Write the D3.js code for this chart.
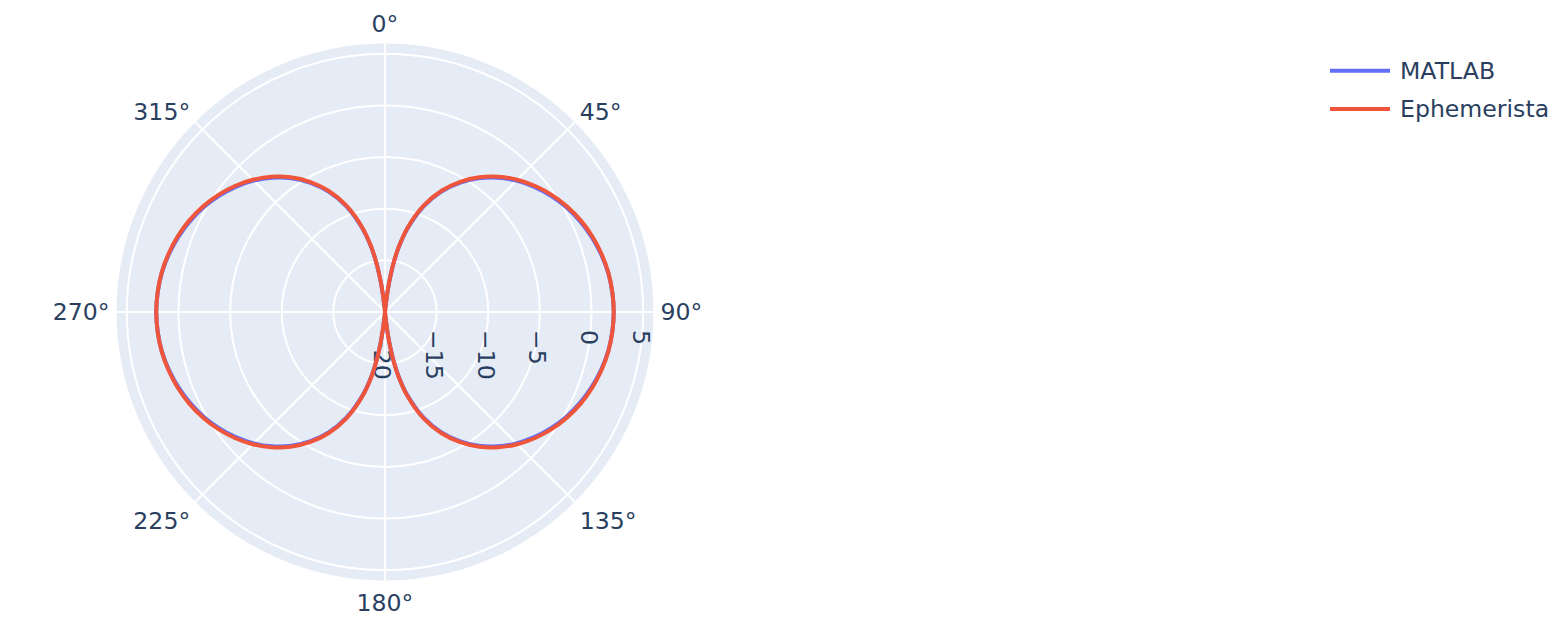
<!DOCTYPE html>
<html>
<head>
<meta charset="utf-8">
<script src="https://cdn.jsdelivr.net/npm/d3@7"></script>
<style>
  html, body { margin: 0; padding: 0; background: #fff; }
  svg { display: block; }
  text { font-family: "DejaVu Sans", Verdana, Arial, sans-serif; fill: #2a3f5f; }
</style>
</head>
<body>
<svg id="chart" width="1560" height="634"></svg>
<script>
// ---------------- data ----------------
const seriesNames = ["MATLAB", "Ephemerista"];
const seriesColors = ["#636efa", "#EF553B"];

const thetaDeg = [
  0, 6, 7, 8, 10, 12, 15, 20, 25, 30, 35, 40, 45, 50, 55, 60, 65, 70, 75, 80, 85, 90,
  95, 100, 105, 110, 115, 120, 125, 130, 135, 140, 145, 150, 155, 160, 165, 168, 170, 172, 173, 174, 180,
  186, 187, 188, 190, 192, 195, 200, 205, 210, 215, 220, 225, 230, 235, 240, 245, 250, 255, 260, 265, 270,
  275, 280, 285, 290, 295, 300, 305, 310, 315, 320, 325, 330, 335, 340, 345, 348, 350, 352, 353, 354, 360
];

const ephemeristaDb = [
  -20, -19.54, -18.19, -17.04, -15.09, -13.50, -11.55, -9.01, -7.04, -5.44, -4.07, -2.90, -1.89, -1.02, -0.26, 0.39, 0.93, 1.37, 1.71, 1.96, 2.10, 2.15,
  2.10, 1.96, 1.71, 1.37, 0.93, 0.39, -0.26, -1.02, -1.89, -2.90, -4.07, -5.44, -7.04, -9.01, -11.55, -13.50, -15.09, -17.04, -18.19, -19.54, -20,
  -19.54, -18.19, -17.04, -15.09, -13.50, -11.55, -9.01, -7.04, -5.44, -4.07, -2.90, -1.89, -1.02, -0.26, 0.39, 0.93, 1.37, 1.71, 1.96, 2.10, 2.15,
  2.10, 1.96, 1.71, 1.37, 0.93, 0.39, -0.26, -1.02, -1.89, -2.90, -4.07, -5.44, -7.04, -9.01, -11.55, -13.50, -15.09, -17.04, -18.19, -19.54, -20
];

const matlabDb = [
  -20, -19.60, -18.27, -17.12, -15.18, -13.60, -11.67, -9.13, -7.16, -5.56, -4.19, -3.02, -2.01, -1.14, -0.38, 0.28, 0.83, 1.29, 1.66, 1.94, 2.09, 2.15,
  2.09, 1.94, 1.66, 1.29, 0.83, 0.28, -0.38, -1.14, -2.01, -3.02, -4.19, -5.56, -7.16, -9.13, -11.67, -13.60, -15.18, -17.12, -18.27, -19.60, -20,
  -19.60, -18.27, -17.12, -15.18, -13.60, -11.67, -9.13, -7.16, -5.56, -4.19, -3.02, -2.01, -1.14, -0.38, 0.28, 0.83, 1.29, 1.66, 1.94, 2.09, 2.15,
  2.09, 1.94, 1.66, 1.29, 0.83, 0.28, -0.38, -1.14, -2.01, -3.02, -4.19, -5.56, -7.16, -9.13, -11.67, -13.60, -15.18, -17.12, -18.27, -19.60, -20
];

const radialTicks = [-20, -15, -10, -5, 0, 5];
const radialTickLabels = ["\u221220", "\u221215", "\u221210", "\u22125", "0", "5"];
const angularTicks = [0, 45, 90, 135, 180, 225, 270, 315];
const angularTickLabels = ["0°", "45°", "90°", "135°", "180°", "225°", "270°", "315°"];
const radialRange = [-20, 6];

// ---------------- layout ----------------
const cx = 385, cy = 312, R = 268.5;
const fontSize = 23.6;
const bg = "#E5ECF6";

const svg = d3.select("#chart");
const rScale = d3.scaleLinear().domain(radialRange).range([0, R]).clamp(true);

const g = svg.append("g").attr("transform", `translate(${cx},${cy})`);

// background
g.append("circle").attr("r", R).attr("fill", bg);

// radial grid circles
g.selectAll("circle.grid")
  .data(radialTicks.filter(t => rScale(t) > 0))
  .join("circle")
  .attr("class", "grid")
  .attr("r", d => rScale(d))
  .attr("fill", "none")
  .attr("stroke", "#fff")
  .attr("stroke-width", 2);

// angular grid lines
const toXY = (deg, r) => {
  const a = deg * Math.PI / 180;
  return [r * Math.sin(a), -r * Math.cos(a)];
};
g.selectAll("line.agrid")
  .data(angularTicks)
  .join("line")
  .attr("class", "agrid")
  .attr("x1", 0).attr("y1", 0)
  .attr("x2", d => toXY(d, R)[0])
  .attr("y2", d => toXY(d, R)[1])
  .attr("stroke", "#fff")
  .attr("stroke-width", 2);

// clip
svg.append("clipPath").attr("id", "polarClip")
  .append("circle").attr("cx", cx).attr("cy", cy).attr("r", R);

// traces
const lineGen = d3.lineRadial()
  .angle(d => d[0] * Math.PI / 180)
  .radius(d => rScale(d[1]))
  .curve(d3.curveCatmullRom.alpha(0.5));

const traces = [matlabDb, ephemeristaDb];
const traceG = svg.append("g").attr("clip-path", "url(#polarClip)")
  .append("g").attr("transform", `translate(${cx},${cy})`);
traces.forEach((vals, i) => {
  const pts = thetaDeg.map((t, j) => [t, vals[j]]);
  traceG.append("path")
    .attr("d", lineGen(pts))
    .attr("fill", "none")
    .attr("stroke", seriesColors[i])
    .attr("stroke-width", 4)
    .attr("stroke-linejoin", "round");
});

// radial tick labels (axis along 90°, rotated text)
g.selectAll("text.rtick")
  .data(radialTicks)
  .join("text")
  .attr("class", "rtick")
  .attr("transform", d => `translate(${rScale(d) - 2.3},${18}) rotate(90)`)
  .attr("dy", "0.35em")
  .attr("text-anchor", "start")
  .style("font-size", fontSize + "px")
  .text((d, i) => radialTickLabels[i]);

// angular tick labels (plotly-style placement)
const pad = 7;
g.selectAll("text.atick")
  .data(angularTicks)
  .join("text")
  .attr("class", "atick")
  .each(function(d, i) {
    const math = (90 - d) * Math.PI / 180;
    const c = Math.cos(math), s = Math.sin(math);
    const ff = s > 1e-6 ? 0.2 : 1;
    const x = c * R + c * pad;
    const y = -s * R - s * (pad + fontSize * ff) + Math.abs(c) * fontSize * 0.35;
    const anchor = Math.abs(c) < 0.1 ? "middle" : (c > 0 ? "start" : "end");
    d3.select(this)
      .attr("x", x).attr("y", y)
      .attr("text-anchor", anchor)
      .style("font-size", fontSize + "px")
      .text(angularTickLabels[i]);
  });

// legend
const legend = svg.append("g").attr("transform", "translate(1320,0)");
const legendY = [70.7, 109];
seriesNames.forEach((name, i) => {
  legend.append("line")
    .attr("x1", 10).attr("x2", 70)
    .attr("y1", legendY[i]).attr("y2", legendY[i])
    .attr("stroke", seriesColors[i])
    .attr("stroke-width", 4);
  legend.append("text")
    .attr("x", 80).attr("y", legendY[i])
    .attr("dy", "0.35em")
    .style("font-size", fontSize + "px")
    .text(name);
});
</script>
</body>
</html>
